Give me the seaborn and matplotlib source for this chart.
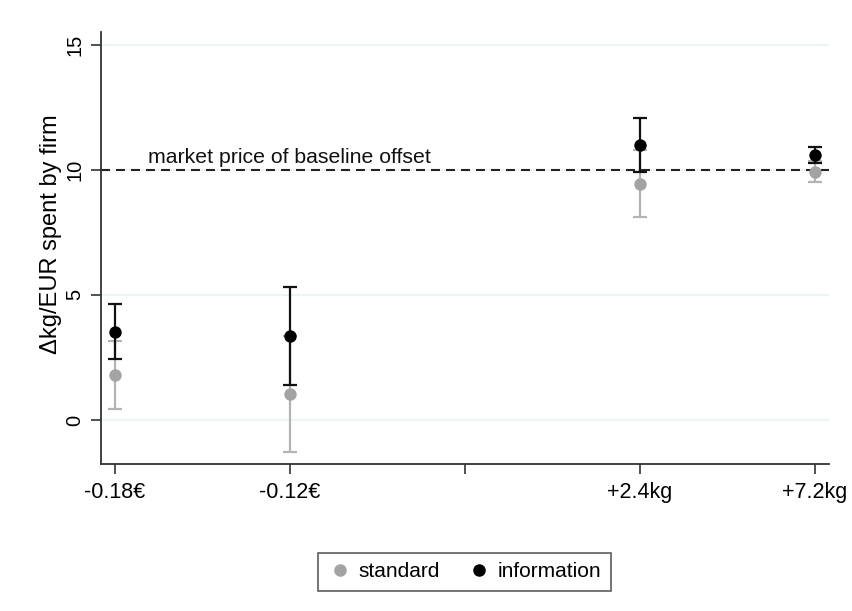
import pandas as pd
import matplotlib.pyplot as plt
import seaborn as sns

# Data
treatments = ["-0.18€", "-0.12€", "", "+2.4kg", "+7.2kg"]
positions = [0, 1, 3, 4]  # slot 2 is the empty middle tick
std_mean = [1.80, 1.04, 9.44, 9.92]
std_lo = [0.45, -1.28, 8.09, 9.49]
std_hi = [3.15, 3.36, 10.79, 10.35]
info_mean = [3.53, 3.36, 10.97, 10.57]
info_lo = [2.43, 1.41, 9.89, 10.27]
info_hi = [4.63, 5.32, 12.07, 10.91]
baseline = 10

sns.set_theme(style="white")
plt.rcParams['font.family'] = ['Liberation Sans', 'DejaVu Sans']
plt.rcParams['text.color'] = 'black'
plt.rcParams['xtick.color'] = 'black'
plt.rcParams['ytick.color'] = 'black'
plt.rcParams['axes.labelcolor'] = 'black'

df = pd.DataFrame({
    "pos": positions * 2,
    "value": std_mean + info_mean,
    "lo": std_lo + info_lo,
    "hi": std_hi + info_hi,
    "group": ["standard"] * 4 + ["information"] * 4,
})

colors = {"standard": "#a3a3a3", "information": "#000000"}
bar_colors = {"standard": "#b3b3b3", "information": "#111111"}

fig = plt.figure(figsize=(8.52, 6.11), dpi=100)
ax = fig.add_axes([0.1185, 0.2406, 0.973 - 0.1185, 0.9476 - 0.2406])

# gridlines
for y in [0, 5, 10, 15]:
    ax.axhline(y, color="#eaf2f3", lw=1.2, zorder=0)

# dashed baseline
ax.axhline(baseline, color="#222222", lw=1.5, ls=(0, (4.3, 2.9)), zorder=1)
ax.text(0.19, baseline + 0.12, "market price of baseline offset",
        fontsize=15.3, ha="left", va="bottom", color="#111111")

for g in ["standard", "information"]:
    sub = df[df["group"] == g]
    ax.errorbar(sub["pos"], sub["value"],
                yerr=[sub["value"] - sub["lo"], sub["hi"] - sub["value"]],
                fmt="none", ecolor=bar_colors[g], elinewidth=1.6,
                capsize=4.7, capthick=1.6, zorder=2)
    sns.scatterplot(data=sub, x="pos", y="value", color=colors[g], s=80,
                    edgecolor=colors[g], linewidth=0, ax=ax, zorder=3,
                    label=g, legend=False)

ax.set_xlim(-0.08, 4.08)
ax.set_ylim(-1.76, 15.5)
ax.set_xticks(range(len(treatments)))
ax.set_xticklabels(treatments, fontsize=15.5)
ax.set_yticks([0, 5, 10, 15])
ax.set_yticklabels(["0", "5", "10", "15"], fontsize=14.5, rotation=90, va="center")
ax.set_xlabel("")
ax.set_ylabel("Δkg/EUR spent by firm", fontsize=17)
ax.yaxis.set_label_coords(-0.054, 0.532)

for s in ["top", "right"]:
    ax.spines[s].set_visible(False)
for s in ["left", "bottom"]:
    ax.spines[s].set_color("#333333")
    ax.spines[s].set_linewidth(1.3)
ax.tick_params(axis="both", direction="out", length=7, width=1.2,
               color="#333333", left=True, bottom=True)
ax.tick_params(axis="y", pad=5)
ax.tick_params(axis="x", pad=6)

handles = [
    plt.Line2D([], [], marker="o", ls="", color=colors["standard"], markersize=8),
    plt.Line2D([], [], marker="o", ls="", color=colors["information"], markersize=8),
]
leg = fig.legend(handles, ["standard", "information"], loc="center",
                 bbox_to_anchor=(0.545, 0.064), ncol=2, fontsize=15,
                 frameon=True, fancybox=False, handletextpad=0.3,
                 handlelength=1.2, columnspacing=1.3, borderpad=0.45)
leg.get_frame().set_edgecolor("#333333")
leg.get_frame().set_linewidth(1.2)

fig.savefig("out.png", dpi=100)
